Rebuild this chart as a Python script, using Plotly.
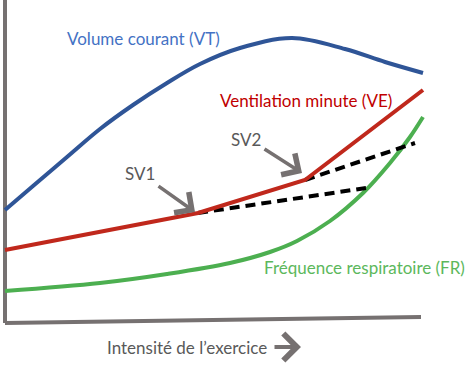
import plotly.graph_objects as go

# Conceptual chart, coordinates in a 475 x 369 frame (y upward)
vt_x = [5, 33, 67, 100, 133, 167, 200, 240, 292, 345, 385, 423]
vt_y = [159, 183, 212, 240, 264, 286, 305, 321, 331, 320, 307, 296]

ve_x = [5, 100, 198, 305, 423]
ve_y = [119, 137, 156, 189, 279]

fr_x = [5, 100, 167, 230, 270, 297, 330, 363, 390, 410, 423]
fr_y = [78, 86, 95, 106, 117, 128, 148, 176, 206, 232, 252]

dash1_x = [198, 366]
dash1_y = [156, 181]
dash2_x = [305, 415]
dash2_y = [189, 226]

axis_v_x = [5, 5]
axis_v_y = [369, 46]
axis_h_x = [5, 421]
axis_h_y = [46, 52]

labels = {
    "vt": "Volume courant (VT)",
    "ve": "Ventilation minute (VE)",
    "fr": "Fréquence respiratoire (FR)",
    "sv1": "SV1",
    "sv2": "SV2",
    "x": "Intensité de l\u2019exercice",
}

GRAY = "#767171"
FONT = "Lato"

fig = go.Figure()
fig.add_trace(go.Scatter(x=axis_v_x, y=axis_v_y, mode="lines",
                         line=dict(color=GRAY, width=4), hoverinfo="skip"))
fig.add_trace(go.Scatter(x=axis_h_x, y=axis_h_y, mode="lines",
                         line=dict(color=GRAY, width=4), hoverinfo="skip"))
fig.add_trace(go.Scatter(x=vt_x, y=vt_y, mode="lines",
                         line=dict(color="#2F5597", width=4, shape="spline", smoothing=1)))
fig.add_trace(go.Scatter(x=fr_x, y=fr_y, mode="lines",
                         line=dict(color="#4CAF50", width=4, shape="spline", smoothing=1)))
fig.add_trace(go.Scatter(x=dash1_x, y=dash1_y, mode="lines",
                         line=dict(color="black", width=4, dash="10px,6px")))
fig.add_trace(go.Scatter(x=dash2_x, y=dash2_y, mode="lines",
                         line=dict(color="black", width=4, dash="10px,6px")))
fig.add_trace(go.Scatter(x=ve_x, y=ve_y, mode="lines",
                         line=dict(color="#C0281C", width=4)))

def txt(x, y, s, color):
    fig.add_annotation(x=x, y=y, text=s, showarrow=False, xref="x", yref="y",
                       xanchor="center", yanchor="middle",
                       font=dict(family=FONT, size=17, color=color))

txt(143.5, 331, labels["vt"], "#4472C4")
txt(306, 269, labels["ve"], "#C00000")
txt(364, 102, labels["fr"], "#5CB85C")
txt(140, 196, labels["sv1"], "#595959")
txt(246, 230, labels["sv2"], "#595959")
txt(187, 22, labels["x"], "#595959")

def arrow(x0, y0, x1, y1, w=3.5, s=1.4):
    fig.add_annotation(x=x1, y=y1, ax=x0, ay=y0, xref="x", yref="y",
                       axref="x", ayref="y", text="", showarrow=True,
                       arrowhead=4, arrowsize=s, arrowwidth=w,
                       arrowcolor=GRAY)

arrow(157, 184, 195, 157)
arrow(263, 221, 302, 196)
arrow(273, 22, 301, 22, w=4, s=1.3)

fig.update_layout(
    width=475, height=369,
    margin=dict(l=0, r=0, t=0, b=0),
    paper_bgcolor="white", plot_bgcolor="white",
    showlegend=False,
    xaxis=dict(range=[0, 475], visible=False, fixedrange=True),
    yaxis=dict(range=[0, 369], visible=False, fixedrange=True),
)
fig.write_html("out.html", config={"displayModeBar": False},
               post_script="document.body.style.margin='0';"
                           "document.body.style.overflow='hidden';")
